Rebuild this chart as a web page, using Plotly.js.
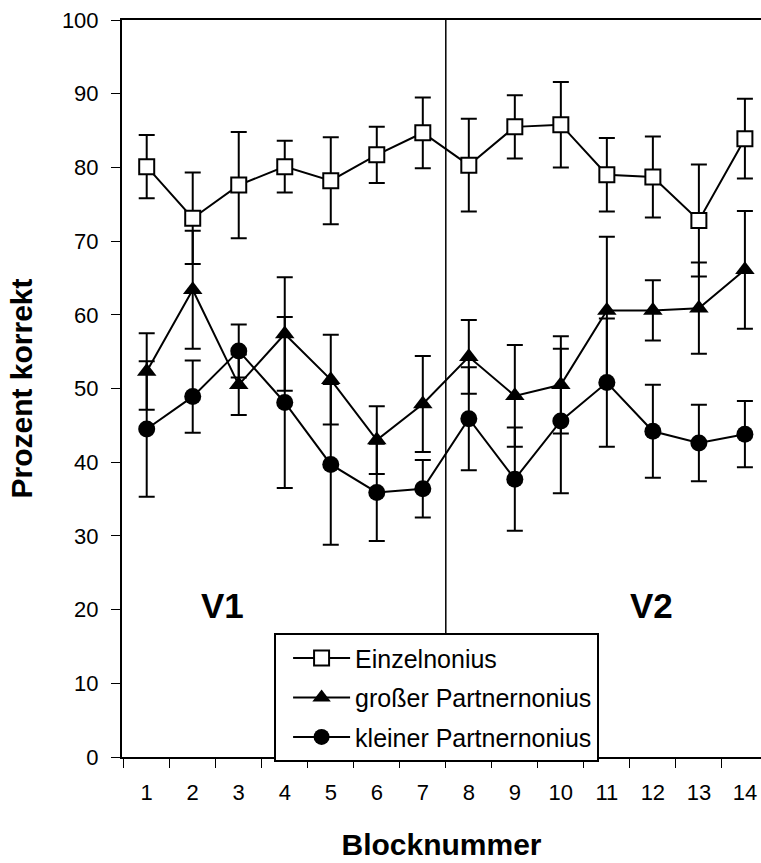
<!DOCTYPE html>
<html><head><meta charset="utf-8">
<script src="https://cdn.plot.ly/plotly-3.0.1.min.js"></script>
<style>html,body{margin:0;padding:0;background:#fff}#chart{width:761px;height:863px}</style>
</head><body><div id="chart"></div>
<script>
const blocks = ['1','2','3','4','5','6','7','8','9','10','11','12','13','14'];
const einzel = [80.1,73.1,77.6,80.1,78.2,81.7,84.7,80.3,85.5,85.8,79.0,78.7,72.8,83.9];
const einzelErr = [4.3,6.2,7.2,3.5,5.9,3.8,4.8,6.3,4.3,5.8,5.0,5.5,7.6,5.4];
const gross = [52.3,63.4,50.5,57.4,51.2,43.0,47.9,54.3,49.0,50.5,60.6,60.6,60.9,66.1];
const grossErr = [5.2,8.0,4.1,7.7,6.1,4.6,6.5,5.0,6.9,6.6,10.0,4.1,6.2,8.0];
const klein = [44.5,48.9,55.1,48.1,39.7,35.9,36.4,45.9,37.7,45.6,50.8,44.2,42.6,43.8];
const kleinErr = [9.2,4.9,3.6,11.6,10.9,6.6,3.9,7.0,7.0,9.8,8.7,6.3,5.2,4.5];
const names = ['Einzelnonius','großer Partnernonius','kleiner Partnernonius'];
const periods = ['V1','V2'];
const periodX = [2.65,11.98];
const periodY = [20.6,20.6];

const F = 'Arial, "Liberation Sans", sans-serif';
function tr(y, e, name, sym, fill, grp, rank){
  return {x: blocks, y: y, name: name, type:'scatter', mode:'lines+markers',
    legendgroup: grp, legendrank: rank,
    line:{color:'#000', width:2},
    marker:{symbol:sym, size: sym==='square'?15:17, color:fill, line:{color:'#000', width: sym==='square'?2:0}},
    error_y:{type:'data', array:e, visible:true, color:'#000', thickness:2, width:8}};
}
const data = [
  tr(klein, kleinErr, names[2], 'circle', '#000','c',3),
  tr(gross, grossErr, names[1], 'triangle-up', '#000','b',2),
  tr(einzel, einzelErr, names[0], 'square', '#fff','a',1)
];
const layout = {
  width:761, height:863, margin:{l:122, r:0, t:20, b:106},
  paper_bgcolor:'#fff', plot_bgcolor:'#fff',
  font:{family:F, color:'#000', size:22},
  showlegend:true,
  legend:{x:0.238, y:0.168, xanchor:'left', yanchor:'top', bgcolor:'#fff',
    bordercolor:'#000', borderwidth:2, font:{family:F, size:25, color:'#000'},
    traceorder:'grouped', tracegroupgap:4, itemwidth:57, indentation:12},
  xaxis:{type:'category', range:[-0.537, 13.35], tickson:'boundaries',
    showline:true, linecolor:'#000', linewidth:2, mirror:true,
    ticks:'outside', ticklen:9, tickcolor:'#000', tickwidth:1,
    showgrid:false, zeroline:false, ticklabelstandoff:15,
    tickfont:{family:F, size:22, color:'#000'},
    title:{text:'<b>Blocknummer</b>', font:{family:F, size:30, color:'#000'}, standoff:30}},
  yaxis:{range:[0,100], tickvals:[0,10,20,30,40,50,60,70,80,90,100],
    showline:true, linecolor:'#000', linewidth:2, ticks:'outside', ticklen:9,
    tickcolor:'#000', tickwidth:1, showgrid:false, zeroline:false,
    tickfont:{family:F, size:22, color:'#000'}, ticklabelstandoff:8,
    title:{text:'<b>Prozent korrekt</b>', font:{family:F, size:30, color:'#000'}, standoff:20}},
  shapes:[{type:'line', xref:'x', yref:'paper', x0:6.5, x1:6.5, y0:0, y1:1, line:{color:'#000', width:1.5}, layer:'below'}],
  annotations: periods.map((p,i)=>({text:'<b>'+p+'</b>', x:periodX[i]-1, y:periodY[i], xref:'x', yref:'y', showarrow:false, font:{family:F, size:35, color:'#000'}}))
};
Plotly.newPlot('chart', data, layout, {displayModeBar:false, staticPlot:true});
</script></body></html>
